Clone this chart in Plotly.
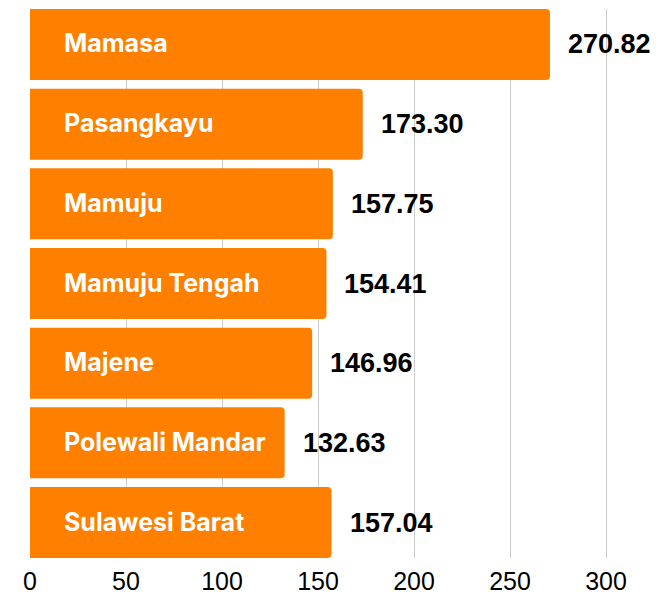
import plotly.graph_objects as go

regions = ["Mamasa", "Pasangkayu", "Mamuju", "Mamuju Tengah", "Majene",
           "Polewali Mandar", "Sulawesi Barat"]
values = [270.82, 173.30, 157.75, 154.41, 146.96, 132.63, 157.04]
value_labels = ["270.82", "173.30", "157.75", "154.41", "146.96", "132.63", "157.04"]
x_ticks = [0, 50, 100, 150, 200, 250, 300]

BAR = "#FF8000"
gap = 0.109

fig = go.Figure()
fig.add_trace(go.Bar(
    x=values, y=regions, orientation="h",
    marker=dict(color=BAR, line=dict(width=0), cornerradius=4),
    hoverinfo="skip", showlegend=False,
))

for r, v, lab in zip(regions, values, value_labels):
    fig.add_annotation(x=0, y=r, text="<b>%s</b>" % r, showarrow=False,
                       xanchor="left", yanchor="middle", xshift=32, yshift=1,
                       font=dict(family="Inter", size=25, color="white"))
    fig.add_annotation(x=v, y=r, text="<b>%s</b>" % lab, showarrow=False,
                       xanchor="left", yanchor="middle", xshift=16, yshift=0,
                       font=dict(family="Liberation Sans", size=27, color="black"))

fig.update_layout(
    width=658, height=595,
    margin=dict(l=30, r=0, t=9, b=37),
    paper_bgcolor="white", plot_bgcolor="white",
    bargap=gap,
    xaxis=dict(range=[0, 327.08], tickvals=x_ticks, ticktext=[str(t) for t in x_ticks],
               showgrid=True, gridcolor="#cccccc", gridwidth=1, zeroline=False,
               showline=False, ticks="", ticklabelstandoff=6,
               tickfont=dict(family="Liberation Sans", size=25, color="black")),
    yaxis=dict(categoryorder="array", categoryarray=regions,
               range=[6.5 - gap / 2, -0.5 + gap / 2],
               showticklabels=False, showgrid=False, zeroline=False, showline=False, ticks=""),
)

fig.write_html("out.html")
